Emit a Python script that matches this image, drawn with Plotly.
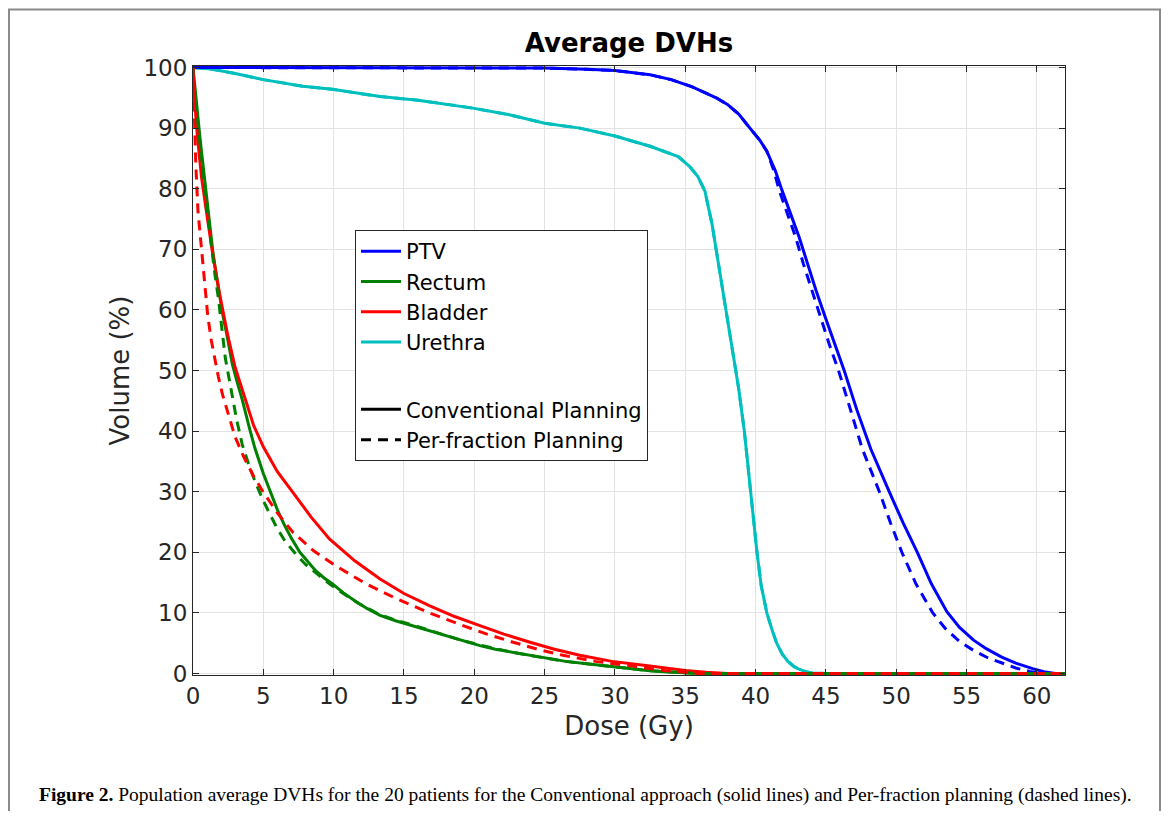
import plotly.graph_objects as go

# ---------------- data ----------------
ptv_conv_dose = [0, 10, 20, 25, 28, 30, 32.5, 34, 35.5, 36.2, 37.2, 38.0, 38.8, 39.6, 40.3, 40.8, 41.4, 41.9, 42.5, 43.1, 43.7, 44.3, 45.0, 45.7, 46.3, 47.2, 48.2, 49.5, 50.5, 51.5, 52.5, 53.6, 54.5, 55.5, 56.4, 57.5, 58.5, 59.7, 60.5, 61.3, 62]
ptv_conv_vol = [100, 100, 100, 99.9, 99.7, 99.5, 98.8, 98.0, 96.8, 96.1, 95.0, 93.9, 92.3, 90.0, 88.0, 86.2, 83.0, 79.6, 75.8, 72.0, 67.6, 63.2, 58.5, 53.9, 50.0, 43.5, 37.0, 30.0, 24.8, 20.0, 14.8, 10.2, 7.6, 5.5, 4.1, 2.7, 1.7, 0.8, 0.3, 0.0, 0]

ptv_pf_dose = [0, 10, 20, 25, 28, 30, 32.5, 34, 35.5, 36.2, 37.2, 38.0, 38.8, 39.6, 40.3, 40.8, 41.3, 41.7, 42.3, 42.85, 43.4, 44.0, 44.65, 45.3, 45.9, 46.75, 47.6, 48.8, 49.6, 50.4, 51.4, 52.6, 53.5, 54.5, 55.5, 56.5, 57.5, 58.5, 59.5, 60.3, 62]
ptv_pf_vol = [100, 100, 100, 99.9, 99.7, 99.5, 98.8, 98.0, 96.8, 96.1, 95.0, 93.9, 92.3, 90.0, 88.0, 86.2, 83.0, 79.6, 75.8, 72.0, 67.6, 63.2, 58.5, 53.9, 50.0, 43.5, 37.0, 30.0, 24.8, 20.0, 14.8, 10.0, 7.4, 5.3, 3.8, 2.6, 1.7, 0.9, 0.35, 0.0, 0]

rectum_conv_dose = [0, 0.15, 0.3, 0.5, 0.7, 0.9, 1.15, 1.4, 1.65, 1.9, 2.15, 2.4, 2.8, 3.15, 3.5, 4.0, 4.4, 5.0, 5.5, 6.0, 6.5, 7.0, 7.6, 8.2, 8.7, 9.3, 9.9, 10.7, 11.5, 12.4, 13.3, 14.4, 15.6, 16.8, 18, 19.2, 20.4, 21.5, 22.7, 23.9, 25.1, 26.5, 28, 29.5, 31, 32.3, 33.5, 34.8, 36, 62]
rectum_conv_vol = [100, 96, 93, 88.3, 84, 80, 74.8, 69.8, 65.8, 62, 58.8, 56, 51, 48, 45.2, 40.6, 37.2, 33, 29.9, 27, 24.5, 22.3, 20, 18.3, 17, 15.8, 14.8, 13.3, 12, 10.7, 9.6, 8.7, 7.9, 7.0, 6.2, 5.4, 4.6, 4.0, 3.5, 3.0, 2.5, 2.0, 1.6, 1.2, 0.8, 0.5, 0.3, 0.1, 0, 0]

rectum_pf_dose = [0, 0.15, 0.3, 0.5, 0.7, 0.9, 1.1, 1.35, 1.55, 1.8, 2.05, 2.3, 2.7, 3.1, 3.5, 4.0, 4.5, 5.0, 5.9, 6.5, 7.2, 8.0, 9.0, 9.7, 10.5, 11.8, 13.3, 14.4, 15.6, 16.8, 18, 19.2, 20.4, 21.5, 22.7, 23.9, 25.1, 26.5, 28, 29.5, 31, 32.3, 33.5, 34.8, 36, 62]
rectum_pf_vol = [100, 95, 92, 87, 83, 79, 74.5, 69.8, 66, 62, 57, 52, 47, 41.9, 37.8, 34.2, 31.2, 28.5, 24.3, 22, 20, 18, 16.1, 14.8, 13.5, 11.5, 9.7, 8.8, 8.0, 7.1, 6.2, 5.4, 4.7, 4.1, 3.5, 3.0, 2.5, 2.0, 1.6, 1.2, 0.8, 0.5, 0.3, 0.1, 0, 0]

bladder_conv_dose = [0, 0.1, 0.3, 0.6, 1.0, 1.35, 1.9, 2.5, 3.0, 3.7, 4.3, 5.0, 6.0, 7.1, 8.4, 9.7, 11.5, 13.3, 15.0, 16.8, 18.6, 20.4, 22.1, 23.9, 25.7, 27.5, 29.8, 32.2, 33.6, 35, 36.5, 38, 62]
bladder_conv_vol = [100, 95, 89, 82, 75.5, 70, 62.5, 55.5, 50.5, 45.2, 41, 37.4, 33.3, 29.9, 25.8, 22.2, 18.6, 15.6, 13.2, 11.2, 9.4, 7.9, 6.5, 5.2, 4.0, 3.0, 2.0, 1.3, 0.9, 0.5, 0.2, 0, 0]

bladder_pf_dose = [0, 0.1, 0.2, 0.35, 0.6, 0.85, 1.05, 1.3, 1.55, 1.8, 2.1, 2.6, 3.0, 3.6, 4.3, 5.0, 6.0, 7.1, 8.6, 10.2, 12.3, 14.5, 16.8, 19.2, 20.9, 22.7, 24.5, 26.3, 28.6, 31, 33.5, 35, 36, 62]
bladder_pf_vol = [100, 92, 84, 76.4, 69.8, 63.2, 59, 55, 51.8, 49, 46, 41.9, 39, 35.8, 32.6, 29.9, 26.5, 23.3, 20.2, 17.7, 14.8, 12.3, 10.0, 7.9, 6.5, 5.2, 4.0, 3.0, 2.0, 1.3, 0.5, 0.2, 0, 0]

urethra_dose = [0, 1.4, 3, 5, 7.8, 9.9, 13.3, 16, 19.9, 22.5, 25, 27.5, 30, 32.5, 34.5, 35.3, 35.9, 36.4, 36.9, 37.4, 37.8, 38.3, 38.8, 39.2, 39.6, 40.1, 40.4, 40.8, 41.2, 41.5, 41.9, 42.3, 42.7, 43.0, 43.5, 44, 45, 62]
urethra_vol = [100, 99.7, 99, 98, 96.9, 96.4, 95.2, 94.6, 93.3, 92.2, 90.8, 90.0, 88.7, 87.0, 85.3, 83.7, 82, 79.6, 74.2, 67, 61, 54.5, 47, 40, 31, 20, 14.5, 10, 7, 5, 3.2, 2, 1.2, 0.8, 0.35, 0.1, 0, 0]

x_ticks = [0, 5, 10, 15, 20, 25, 30, 35, 40, 45, 50, 55, 60]
y_ticks = [0, 10, 20, 30, 40, 50, 60, 70, 80, 90, 100]

structure_names = ["PTV", "Rectum", "Bladder", "Urethra"]
planning_names = ["Conventional Planning", "Per-fraction Planning"]
caption = ("<b>Figure 2.</b> Population average DVHs for the 20 patients for the Conventional "
           "approach (solid lines) and Per-fraction planning (dashed lines).")

# ---------------- styling ----------------
BLUE = "#0000FF"
GREEN = "#008000"
RED = "#FF0000"
CYAN = "#00BFBF"
LW = 3
DASH = "10px,7px"
AX = "#262626"
FONT = "DejaVu Sans"

fig = go.Figure()

def add(x, y, color, dash, name=None, show=False, group="s"):
    fig.add_trace(go.Scatter(
        x=x, y=y, mode="lines", name=name, showlegend=show, legendgroup=group,
        line=dict(color=color, width=LW, dash=dash),
        hoverinfo="skip"))

# drawing order
add(urethra_dose, urethra_vol, CYAN, "solid")
add(urethra_dose, urethra_vol, CYAN, DASH)
add(ptv_conv_dose, ptv_conv_vol, BLUE, "solid")
add(ptv_pf_dose, ptv_pf_vol, BLUE, DASH)
add(rectum_conv_dose, rectum_conv_vol, GREEN, "solid")
add(bladder_conv_dose, bladder_conv_vol, RED, "solid")
add(rectum_pf_dose, rectum_pf_vol, GREEN, DASH)
add(bladder_pf_dose, bladder_pf_vol, RED, DASH)

# legend entries
for nm, col in zip(structure_names, [BLUE, GREEN, RED, CYAN]):
    add([None], [None], col, "solid", name=nm, show=True, group="a")
add([None], [None], "black", "solid", name=planning_names[0], show=True, group="b")
add([None], [None], "black", DASH, name=planning_names[1], show=True, group="b")

# page has an 8px body margin: figure coordinates = screen - 8
OFF = 8
W, H = 1160, 803
L, R, T, B = 185, 103, 58, 136
pw, ph = W - L - R, H - T - B

def px(xs):
    return (xs - OFF - L) / pw

def py(ys):
    return (H - B - (ys - OFF)) / ph

fig.update_layout(
    width=W, height=H,
    margin=dict(l=L, r=R, t=T, b=B),
    paper_bgcolor="white", plot_bgcolor="white",
    font=dict(family=FONT, color=AX),
    title=dict(text="<b>Average DVHs</b>", x=0.5, xref="paper", xanchor="center",
               y=(H - (43 - OFF)) / H, yanchor="middle",
               font=dict(family=FONT, size=26, color="black")),
    legend=dict(x=px(355), y=py(230), xanchor="left", yanchor="top",
                bgcolor="white", bordercolor=AX, borderwidth=1,
                font=dict(family=FONT, size=21, color="black"),
                traceorder="grouped", tracegroupgap=37, itemwidth=40),
    xaxis=dict(range=[0, 62], tickvals=x_ticks, ticks="inside", ticklen=6, tickcolor=AX,
               showline=True, linecolor=AX, linewidth=1, mirror="allticks",
               showgrid=True, gridcolor="#e3e3e3", gridwidth=1, zeroline=False,
               tickfont=dict(family=FONT, size=23, color=AX),
               title=dict(text="Dose (Gy)", font=dict(family=FONT, size=26, color=AX), standoff=9)),
    yaxis=dict(range=[-0.25, 100.25], tickvals=y_ticks, ticks="inside", ticklen=6, tickcolor=AX,
               showline=True, linecolor=AX, linewidth=1, mirror="allticks",
               showgrid=True, gridcolor="#e3e3e3", gridwidth=1, zeroline=False,
               tickfont=dict(family=FONT, size=23, color=AX),
               title=dict(text="Volume (%)", font=dict(family=FONT, size=26, color=AX), standoff=6)),
)

# outer figure frame
fig.add_shape(type="rect", xref="paper", yref="paper",
              x0=px(9), x1=px(1160), y0=py(850), y1=py(9.5),
              line=dict(color="#8a8a8a", width=2), fillcolor="rgba(0,0,0,0)", layer="above")

fig.add_annotation(text=caption, xref="paper", yref="paper", x=px(37), y=py(795),
                   xanchor="left", yanchor="middle", showarrow=False,
                   font=dict(family="Liberation Serif", size=19.5, color="black"))

fig.write_html("out.html")
